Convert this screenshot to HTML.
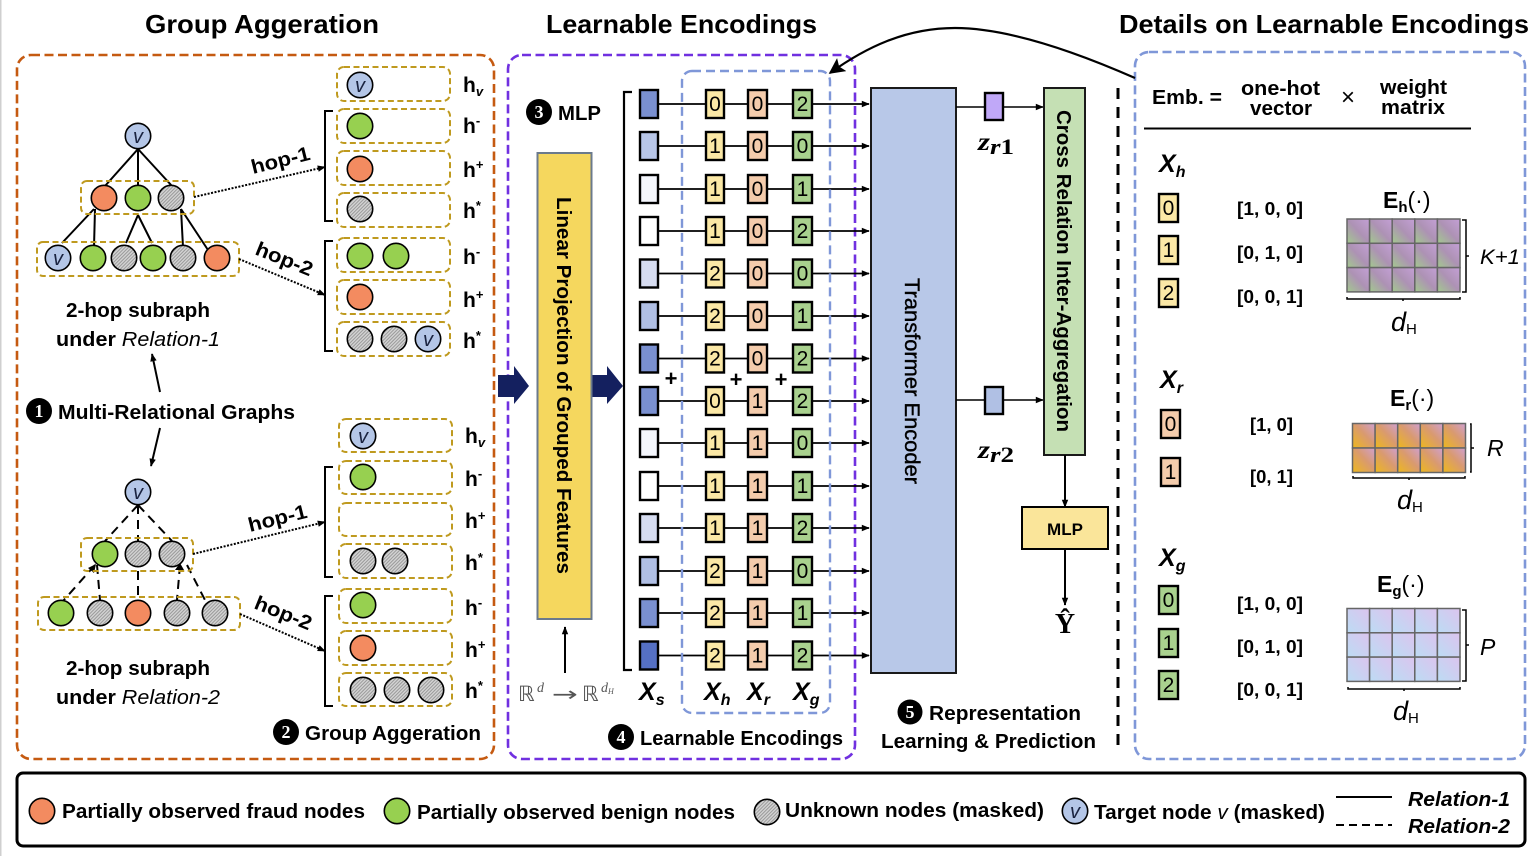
<!DOCTYPE html>
<html lang="en"><head><meta charset="utf-8"><title>Diagram</title>
<style>
html,body{margin:0;padding:0;background:#fff}
svg{display:block}
text{font-family:"Liberation Sans",sans-serif;fill:#000}
.b{font-weight:700}
.t{font-size:26px;font-weight:700}
.m{font-size:20px;font-weight:700}
.h{font-size:21px;font-weight:700}
.h tspan{font-size:13px}
.vt{font-size:20px;font-style:italic;text-anchor:middle;fill:#1a2340}
.gold{fill:none;stroke:#bf9a1f;stroke-width:2;stroke-dasharray:6 3.5}
.row text{font-size:21px;text-anchor:middle}
.k{stroke:#000;stroke-width:2.4}
.num{font-size:21px;text-anchor:middle}
.vec{font-size:18px;font-weight:700}
.cell{stroke:#000;stroke-width:2.4}
.X{font-size:25px;font-weight:700;font-style:italic}
.X tspan{font-size:16px}
.ital{font-style:italic}
.circ{fill:#fff;font-size:18px;font-weight:700;text-anchor:middle;font-family:"Liberation Serif",serif}
.grid{stroke:#666;stroke-width:1.5}
</style></head><body>
<svg width="1540" height="856" viewBox="0 0 1540 856" xmlns="http://www.w3.org/2000/svg">
<defs>
<pattern id="hatch" width="2.4" height="2.4" patternUnits="userSpaceOnUse" patternTransform="rotate(45)"><rect width="2.4" height="2.4" fill="#d4d4d4"/><rect width="1" height="2.4" fill="#999"/></pattern>
<marker id="a" viewBox="0 0 10 10" refX="9" refY="5" markerWidth="9" markerHeight="8" markerUnits="userSpaceOnUse" orient="auto"><path d="M0 1L10 5L0 9z" fill="#000"/></marker>
<marker id="al" viewBox="0 0 10 10" refX="9" refY="5" markerWidth="22" markerHeight="16" markerUnits="userSpaceOnUse" orient="auto"><path d="M0 0L10 5L0 10L2 5z" fill="#000"/></marker>
<circle id="O" r="12.7" fill="#f38b60" stroke="#000" stroke-width="1.6"/>
<circle id="G" r="12.7" fill="#97d050" stroke="#000" stroke-width="1.6"/>
<circle id="U" r="12.7" fill="url(#hatch)" stroke="#000" stroke-width="1.6"/>
<circle id="V" r="12.7" fill="#b4c6e7" stroke="#000" stroke-width="1.6"/>
<g id="row"><line x1="658" y1="0" x2="869" y2="0" stroke="#000" stroke-width="1.8" marker-end="url(#a)"/>
<rect x="706" y="-14" width="18" height="28" fill="#fbe8a6" class="k"/><rect x="748" y="-14" width="19" height="28" fill="#f4ccac" class="k"/><rect x="793" y="-14" width="19" height="28" fill="#a9d18e" class="k"/></g>
<linearGradient id="gh" x1="0" y1="1" x2="1" y2="0"><stop offset="0" stop-color="#a3c98e"/><stop offset=".5" stop-color="#ad92b4"/><stop offset="1" stop-color="#c4a0d6"/></linearGradient>
<linearGradient id="gr" x1="0" y1="1" x2="1" y2="0"><stop offset="0" stop-color="#eeb81c"/><stop offset=".55" stop-color="#d99a70"/><stop offset="1" stop-color="#d0a0d0"/></linearGradient>
<linearGradient id="gg" x1="0" y1="1" x2="1" y2="0"><stop offset="0" stop-color="#bcdcf4"/><stop offset="1" stop-color="#dcc4ee"/></linearGradient>
</defs>
<rect width="1540" height="856" fill="#fff"/>
<line x1="0.5" y1="0" x2="0.5" y2="856" stroke="#cfcfcf" stroke-width="2"/>

<!-- titles -->
<text x="145" y="33" class="t" textLength="234" lengthAdjust="spacingAndGlyphs">Group Aggeration</text>
<text x="546" y="33" class="t" textLength="271" lengthAdjust="spacingAndGlyphs">Learnable Encodings</text>
<text x="1119" y="33" class="t" textLength="410" lengthAdjust="spacingAndGlyphs">Details on Learnable Encodings</text>

<!-- section boxes -->
<rect x="17" y="55" width="477" height="704" rx="14" fill="none" stroke="#c55a11" stroke-width="2.6" stroke-dasharray="9 4.5"/>
<rect x="508" y="55" width="347" height="704" rx="14" fill="none" stroke="#7030e0" stroke-width="2.6" stroke-dasharray="9 4.5"/>
<rect x="1135" y="52" width="390" height="707" rx="14" fill="none" stroke="#7f97d8" stroke-width="2.6" stroke-dasharray="9 4.5"/>

<!-- upper graph -->
<g stroke="#000" stroke-width="2" fill="none">
<path d="M138 149L105 186M138 149V186M138 149L172 186"/>
<path d="M94 209L62 243M95 209L94 247M138 215L126 243M138 215L152 243M181 209L183 247M181 209L208 250"/>
</g>
<rect x="81" y="181" width="113" height="33" rx="6" class="gold"/>
<rect x="37" y="242" width="202" height="34" rx="6" class="gold"/>
<use href="#V" x="138" y="136"/><text x="138" y="143" class="vt">v</text>
<use href="#O" x="104" y="198"/><use href="#G" x="138" y="198"/><use href="#U" x="171" y="198"/>
<use href="#V" x="58" y="258"/><text x="58" y="265" class="vt">v</text>
<use href="#G" x="93" y="258"/><use href="#U" x="124" y="258"/><use href="#G" x="153" y="258"/><use href="#U" x="183" y="258"/><use href="#O" x="217" y="258"/>
<g class="gold"><rect x="337" y="67" width="113" height="34" rx="7"/><rect x="337" y="109" width="113" height="34" rx="7"/><rect x="337" y="151" width="113" height="34" rx="7"/><rect x="337" y="193" width="113" height="34" rx="7"/><rect x="337" y="238" width="113" height="34" rx="7"/><rect x="337" y="280" width="113" height="34" rx="7"/><rect x="337" y="322" width="113" height="34" rx="7"/></g>
<use href="#V" x="360" y="85"/><text x="360" y="92" class="vt">v</text>
<use href="#G" x="360" y="126"/><use href="#O" x="360" y="169"/><use href="#U" x="360" y="209"/>
<use href="#G" x="360" y="256"/><use href="#G" x="396" y="256"/><use href="#O" x="360" y="297"/>
<use href="#U" x="360" y="339"/><use href="#U" x="394" y="339"/><use href="#V" x="428" y="339"/><text x="428" y="346" class="vt">v</text>
<path d="M333 111H325V221H333M333 241H325V351H333" fill="none" stroke="#000" stroke-width="2"/>
<line x1="194" y1="197" x2="325" y2="167" stroke="#000" stroke-width="2" stroke-dasharray="2 1.5" marker-end="url(#a)"/>
<line x1="239" y1="259" x2="325" y2="295" stroke="#000" stroke-width="2" stroke-dasharray="2 1.5" marker-end="url(#a)"/>
<text transform="translate(253,174) rotate(-14)" class="m" textLength="60" lengthAdjust="spacingAndGlyphs">hop-1</text>
<text transform="translate(254,254) rotate(22)" class="m" textLength="60" lengthAdjust="spacingAndGlyphs">hop-2</text>
<text x="463" y="92" class="h">h<tspan dy="4" class="ital">v</tspan></text>
<text x="463" y="133" class="h">h<tspan dy="-8">-</tspan></text>
<text x="463" y="177" class="h">h<tspan dy="-8">+</tspan></text>
<text x="463" y="218" class="h">h<tspan dy="-8">*</tspan></text>
<text x="463" y="264" class="h">h<tspan dy="-8">-</tspan></text>
<text x="463" y="307" class="h">h<tspan dy="-8">+</tspan></text>
<text x="463" y="348" class="h">h<tspan dy="-8">*</tspan></text>
<text x="66" y="317" class="m" textLength="144" lengthAdjust="spacingAndGlyphs">2-hop subraph</text>
<text x="56" y="346" class="m" textLength="164" lengthAdjust="spacingAndGlyphs">under <tspan class="ital" font-weight="400">Relation-1</tspan></text>
<line x1="160" y1="392" x2="152" y2="354" stroke="#000" stroke-width="2" marker-end="url(#a)"/>
<circle cx="39" cy="411" r="13" fill="#000"/><text x="39" y="417" class="circ">1</text>
<text x="58" y="419" class="m" textLength="237" lengthAdjust="spacingAndGlyphs">Multi-Relational Graphs</text>
<line x1="160" y1="428" x2="151" y2="466" stroke="#000" stroke-width="2" marker-end="url(#a)"/>

<!-- lower graph -->
<g stroke="#000" stroke-width="2" fill="none" stroke-dasharray="9 6">
<path d="M138 505L105 541M138 505V541M138 505L172 541"/>
<path d="M95 565L63 601M97 565L100 600M138 571V601M180 565L177 600M187 565L206 602"/>
</g>
<path d="M96 564L88 568L94 573zM180 563L175 570L184 570z" fill="#000"/>
<rect x="81" y="538" width="112" height="33" rx="6" class="gold"/>
<rect x="38" y="597" width="202" height="33" rx="6" class="gold"/>
<use href="#V" x="138" y="492"/><text x="138" y="499" class="vt">v</text>
<use href="#G" x="105" y="554"/><use href="#U" x="138" y="554"/><use href="#U" x="172" y="554"/>
<use href="#G" x="61" y="613"/><use href="#U" x="100" y="613"/><use href="#O" x="138" y="613"/><use href="#U" x="177" y="613"/><use href="#U" x="215" y="613"/>
<g class="gold"><rect x="339" y="419" width="113" height="33" rx="7"/><rect x="339" y="461" width="113" height="33" rx="7"/><rect x="339" y="503" width="113" height="33" rx="7"/><rect x="339" y="544" width="113" height="34" rx="7"/><rect x="339" y="589" width="113" height="34" rx="7"/><rect x="339" y="631" width="113" height="34" rx="7"/><rect x="339" y="673" width="113" height="33" rx="7"/></g>
<use href="#V" x="363" y="436"/><text x="363" y="443" class="vt">v</text>
<use href="#G" x="363" y="477"/><use href="#U" x="363" y="561"/><use href="#U" x="395" y="561"/>
<use href="#G" x="363" y="605"/><use href="#O" x="363" y="648"/><use href="#U" x="363" y="690"/><use href="#U" x="397" y="690"/><use href="#U" x="431" y="690"/>
<path d="M333 467H325V577H333M333 596H325V706H333" fill="none" stroke="#000" stroke-width="2"/>
<line x1="193" y1="554" x2="325" y2="522" stroke="#000" stroke-width="2" stroke-dasharray="2 1.5" marker-end="url(#a)"/>
<line x1="240" y1="614" x2="325" y2="651" stroke="#000" stroke-width="2" stroke-dasharray="2 1.5" marker-end="url(#a)"/>
<text transform="translate(250,532) rotate(-14)" class="m" textLength="60" lengthAdjust="spacingAndGlyphs">hop-1</text>
<text transform="translate(253,608) rotate(22)" class="m" textLength="60" lengthAdjust="spacingAndGlyphs">hop-2</text>
<text x="465" y="443" class="h">h<tspan dy="4" class="ital">v</tspan></text>
<text x="465" y="486" class="h">h<tspan dy="-8">-</tspan></text>
<text x="465" y="528" class="h">h<tspan dy="-8">+</tspan></text>
<text x="465" y="570" class="h">h<tspan dy="-8">*</tspan></text>
<text x="465" y="615" class="h">h<tspan dy="-8">-</tspan></text>
<text x="465" y="657" class="h">h<tspan dy="-8">+</tspan></text>
<text x="465" y="698" class="h">h<tspan dy="-8">*</tspan></text>
<text x="66" y="675" class="m" textLength="144" lengthAdjust="spacingAndGlyphs">2-hop subraph</text>
<text x="56" y="704" class="m" textLength="164" lengthAdjust="spacingAndGlyphs">under <tspan class="ital" font-weight="400">Relation-2</tspan></text>
<circle cx="286" cy="732" r="13" fill="#000"/><text x="286" y="738" class="circ">2</text>
<text x="305" y="740" class="m" textLength="176" lengthAdjust="spacingAndGlyphs">Group Aggeration</text>

<!-- navy arrows -->
<path d="M498 375H514V366L529 386L514 404V397H498z" fill="#14205f"/>
<path d="M592 375H607V366L623 386L607 404V397H592z" fill="#14205f"/>

<!-- MLP / projection -->
<circle cx="539" cy="112" r="13" fill="#000"/><text x="539" y="118" class="circ">3</text>
<text x="558" y="120" class="m" textLength="43" lengthAdjust="spacingAndGlyphs">MLP</text>
<rect x="537.5" y="153" width="54" height="466" fill="#f5d75e" stroke="#6b7a8c" stroke-width="2"/>
<text transform="translate(557,197) rotate(90)" class="m" textLength="377" lengthAdjust="spacingAndGlyphs">Linear Projection of Grouped Features</text>
<line x1="565" y1="673" x2="565" y2="627" stroke="#000" stroke-width="2" marker-end="url(#a)"/>
<text x="518" y="701" style="font-family:'DejaVu Sans',sans-serif;fill:#555" font-size="21">ℝ</text>
<text x="537" y="692" style="font-family:'Liberation Serif',serif;font-style:italic;fill:#555" font-size="14">d</text>
<text x="552" y="701" style="font-family:'DejaVu Sans',sans-serif;fill:#555" font-size="20" textLength="26" lengthAdjust="spacingAndGlyphs">→</text>
<text x="582" y="701" style="font-family:'DejaVu Sans',sans-serif;fill:#555" font-size="21">ℝ</text>
<text x="601" y="692" style="font-family:'Liberation Serif',serif;font-style:italic;fill:#555" font-size="14">d<tspan font-size="8" dy="2">H</tspan></text>

<!-- encoding rows -->
<path d="M632 92H624V670H632" fill="none" stroke="#000" stroke-width="2.2"/>
<g class="row">
<g transform="translate(0,104)"><use href="#row"/><rect x="640" y="-14" width="18" height="28" fill="#7a90d0" class="k"/><text x="715" y="7">0</text><text x="757.5" y="7">0</text><text x="802.5" y="7">2</text></g>
<g transform="translate(0,146)"><use href="#row"/><rect x="640" y="-14" width="18" height="28" fill="#b8c6e8" class="k"/><text x="715" y="7">1</text><text x="757.5" y="7">0</text><text x="802.5" y="7">0</text></g>
<g transform="translate(0,189)"><use href="#row"/><rect x="640" y="-14" width="18" height="28" fill="#f4f6fc" class="k"/><text x="715" y="7">1</text><text x="757.5" y="7">0</text><text x="802.5" y="7">1</text></g>
<g transform="translate(0,231)"><use href="#row"/><rect x="640" y="-14" width="18" height="28" fill="#ffffff" class="k"/><text x="715" y="7">1</text><text x="757.5" y="7">0</text><text x="802.5" y="7">2</text></g>
<g transform="translate(0,273.5)"><use href="#row"/><rect x="640" y="-14" width="18" height="28" fill="#d6dcf0" class="k"/><text x="715" y="7">2</text><text x="757.5" y="7">0</text><text x="802.5" y="7">0</text></g>
<g transform="translate(0,316)"><use href="#row"/><rect x="640" y="-14" width="18" height="28" fill="#b0bfe4" class="k"/><text x="715" y="7">2</text><text x="757.5" y="7">0</text><text x="802.5" y="7">1</text></g>
<g transform="translate(0,358.5)"><use href="#row"/><rect x="640" y="-14" width="18" height="28" fill="#7a90d0" class="k"/><text x="715" y="7">2</text><text x="757.5" y="7">0</text><text x="802.5" y="7">2</text></g>
<g transform="translate(0,401)"><use href="#row"/><rect x="640" y="-14" width="18" height="28" fill="#7a90d0" class="k"/><text x="715" y="7">0</text><text x="757.5" y="7">1</text><text x="802.5" y="7">2</text></g>
<g transform="translate(0,443)"><use href="#row"/><rect x="640" y="-14" width="18" height="28" fill="#f4f6fc" class="k"/><text x="715" y="7">1</text><text x="757.5" y="7">1</text><text x="802.5" y="7">0</text></g>
<g transform="translate(0,486)"><use href="#row"/><rect x="640" y="-14" width="18" height="28" fill="#ffffff" class="k"/><text x="715" y="7">1</text><text x="757.5" y="7">1</text><text x="802.5" y="7">1</text></g>
<g transform="translate(0,528)"><use href="#row"/><rect x="640" y="-14" width="18" height="28" fill="#d6dcf0" class="k"/><text x="715" y="7">1</text><text x="757.5" y="7">1</text><text x="802.5" y="7">2</text></g>
<g transform="translate(0,571)"><use href="#row"/><rect x="640" y="-14" width="18" height="28" fill="#b0bfe4" class="k"/><text x="715" y="7">2</text><text x="757.5" y="7">1</text><text x="802.5" y="7">0</text></g>
<g transform="translate(0,613)"><use href="#row"/><rect x="640" y="-14" width="18" height="28" fill="#7a90d0" class="k"/><text x="715" y="7">2</text><text x="757.5" y="7">1</text><text x="802.5" y="7">1</text></g>
<g transform="translate(0,655.5)"><use href="#row"/><rect x="640" y="-14" width="18" height="28" fill="#5570c4" class="k"/><text x="715" y="7">2</text><text x="757.5" y="7">1</text><text x="802.5" y="7">2</text></g>
</g>
<text x="671" y="386" class="b" font-size="22" text-anchor="middle">+</text>
<text x="736" y="387" class="b" font-size="22" text-anchor="middle">+</text>
<text x="781" y="387" class="b" font-size="22" text-anchor="middle">+</text>
<rect x="682" y="71" width="148" height="642" rx="10" fill="none" stroke="#7f97d8" stroke-width="2.4" stroke-dasharray="9 5"/>
<text x="639" y="700" class="X">X<tspan dy="5">s</tspan></text>
<text x="704" y="700" class="X">X<tspan dy="5">h</tspan></text>
<text x="747" y="700" class="X">X<tspan dy="5">r</tspan></text>
<text x="793" y="700" class="X">X<tspan dy="5">g</tspan></text>
<circle cx="621" cy="737" r="13" fill="#000"/><text x="621" y="743" class="circ">4</text>
<text x="640" y="745" class="m" textLength="203" lengthAdjust="spacingAndGlyphs">Learnable Encodings</text>

<!-- curved pointer -->
<path d="M1135 78C1060 45 1000 28 955 28C905 28 865 48 830 73" fill="none" stroke="#000" stroke-width="2.2" marker-end="url(#al)"/>

<!-- transformer -->
<rect x="871" y="88" width="85" height="585" fill="#b8c8e8" stroke="#1a1a1a" stroke-width="2"/>
<text transform="translate(905,278) rotate(90)" font-size="21" textLength="206" lengthAdjust="spacingAndGlyphs" stroke="#000" stroke-width=".4">Transformer Encoder</text>
<line x1="956" y1="107" x2="1043" y2="107" stroke="#000" stroke-width="1.6" marker-end="url(#a)"/>
<line x1="956" y1="400" x2="1043" y2="400" stroke="#000" stroke-width="1.6" marker-end="url(#a)"/>
<rect x="985" y="93" width="18" height="27" fill="#c0a8f8" class="k"/>
<rect x="985" y="387" width="18" height="27" fill="#b0c0e4" class="k"/>
<text x="978" y="150" textLength="36" lengthAdjust="spacingAndGlyphs" style="font-family:'Liberation Serif',serif;font-weight:700;font-size:25px"><tspan font-style="italic">z</tspan><tspan font-style="italic" font-size="22" dy="4">r</tspan><tspan font-size="22">1</tspan></text>
<text x="978" y="458" textLength="36" lengthAdjust="spacingAndGlyphs" style="font-family:'Liberation Serif',serif;font-weight:700;font-size:25px"><tspan font-style="italic">z</tspan><tspan font-style="italic" font-size="22" dy="4">r</tspan><tspan font-size="22">2</tspan></text>
<rect x="1044" y="88" width="41" height="367" fill="#c5e0b4" stroke="#1a1a1a" stroke-width="2"/>
<text transform="translate(1057,110) rotate(90)" class="m" textLength="322" lengthAdjust="spacingAndGlyphs">Cross Relation Inter-Aggregation</text>
<line x1="1065" y1="455" x2="1065" y2="507" stroke="#000" stroke-width="2" marker-end="url(#a)"/>
<rect x="1022" y="507" width="86" height="42" fill="#fae59a" stroke="#000" stroke-width="2"/>
<text x="1065" y="535" class="b" font-size="17" text-anchor="middle">MLP</text>
<line x1="1065" y1="549" x2="1065" y2="605" stroke="#000" stroke-width="2" marker-end="url(#a)"/>
<text x="1065" y="633" text-anchor="middle" style="font-family:'Liberation Serif',serif;font-weight:700;font-size:28px">Ŷ</text>
<circle cx="910" cy="712" r="12.5" fill="#000"/><text x="910" y="718" class="circ">5</text>
<text x="929" y="720" class="m" textLength="152" lengthAdjust="spacingAndGlyphs">Representation</text>
<text x="881" y="748" class="m" textLength="215" lengthAdjust="spacingAndGlyphs">Learning &amp; Prediction</text>
<line x1="1118" y1="88" x2="1118" y2="752" stroke="#000" stroke-width="3" stroke-dasharray="11 8"/>

<!-- details header -->
<text x="1152" y="104" class="m" textLength="70" lengthAdjust="spacingAndGlyphs">Emb. =</text>
<text x="1241" y="95" class="m" textLength="79" lengthAdjust="spacingAndGlyphs">one-hot</text>
<text x="1250" y="115" class="m" textLength="62" lengthAdjust="spacingAndGlyphs">vector</text>
<text x="1348" y="105" font-size="24" text-anchor="middle">×</text>
<text x="1380" y="94" class="m" textLength="67" lengthAdjust="spacingAndGlyphs">weight</text>
<text x="1381" y="114" class="m" textLength="64" lengthAdjust="spacingAndGlyphs">matrix</text>
<line x1="1144" y1="128.500" x2="1471" y2="128.500" stroke="#000" stroke-width="2"/>

<!-- X_h -->
<text x="1159" y="172" class="X">X<tspan dy="5">h</tspan></text>
<rect x="1159" y="194" width="19" height="28" fill="#fbe8a6" class="cell"/><text x="1168.500" y="215" class="num">0</text>
<rect x="1159" y="236" width="19" height="28" fill="#fbe8a6" class="cell"/><text x="1168.500" y="257" class="num">1</text>
<rect x="1159" y="279" width="19" height="28" fill="#fbe8a6" class="cell"/><text x="1168.500" y="300" class="num">2</text>
<text x="1237" y="215" class="vec" textLength="66" lengthAdjust="spacingAndGlyphs">[1, 0, 0]</text>
<text x="1237" y="259" class="vec" textLength="66" lengthAdjust="spacingAndGlyphs">[0, 1, 0]</text>
<text x="1237" y="303" class="vec" textLength="66" lengthAdjust="spacingAndGlyphs">[0, 0, 1]</text>
<text x="1383" y="208" font-size="23"><tspan font-weight="700">E</tspan><tspan font-size="15" dy="4" font-weight="700">h</tspan><tspan dy="-4">(·)</tspan></text>
<g fill="url(#gh)" class="grid">
<rect x="1347" y="219" width="22.600" height="24.300"/><rect x="1369.600" y="219" width="22.600" height="24.300"/><rect x="1392.200" y="219" width="22.600" height="24.300"/><rect x="1414.800" y="219" width="22.600" height="24.300"/><rect x="1437.400" y="219" width="22.600" height="24.300"/>
<rect x="1347" y="243.300" width="22.600" height="24.300"/><rect x="1369.600" y="243.300" width="22.600" height="24.300"/><rect x="1392.200" y="243.300" width="22.600" height="24.300"/><rect x="1414.800" y="243.300" width="22.600" height="24.300"/><rect x="1437.400" y="243.300" width="22.600" height="24.300"/>
<rect x="1347" y="267.600" width="22.600" height="24.300"/><rect x="1369.600" y="267.600" width="22.600" height="24.300"/><rect x="1392.200" y="267.600" width="22.600" height="24.300"/><rect x="1414.800" y="267.600" width="22.600" height="24.300"/><rect x="1437.400" y="267.600" width="22.600" height="24.300"/>
</g>
<path d="M1462 220H1466V292H1462M1466 256H1469M1347 297V299H1460V297M1403 299V301" fill="none" stroke="#000" stroke-width="1.5"/>
<text x="1480" y="264" class="ital" font-size="21" textLength="40" lengthAdjust="spacingAndGlyphs">K+1</text>
<text x="1391" y="331" font-size="27"><tspan class="ital">d</tspan><tspan font-size="15" dy="3">H</tspan></text>

<!-- X_r -->
<text x="1160" y="388" class="X">X<tspan dy="5">r</tspan></text>
<rect x="1161" y="410" width="19" height="28" fill="#f4ccac" class="cell"/><text x="1170.500" y="431" class="num">0</text>
<rect x="1161" y="458" width="19" height="28" fill="#f4ccac" class="cell"/><text x="1170.500" y="479" class="num">1</text>
<text x="1250" y="431" class="vec" textLength="43" lengthAdjust="spacingAndGlyphs">[1, 0]</text>
<text x="1250" y="483" class="vec" textLength="43" lengthAdjust="spacingAndGlyphs">[0, 1]</text>
<text x="1390" y="406" font-size="23"><tspan font-weight="700">E</tspan><tspan font-size="15" dy="4" font-weight="700">r</tspan><tspan dy="-4">(·)</tspan></text>
<g fill="url(#gr)" class="grid">
<rect x="1352.500" y="423.500" width="22.600" height="24.500"/><rect x="1375.100" y="423.500" width="22.600" height="24.500"/><rect x="1397.700" y="423.500" width="22.600" height="24.500"/><rect x="1420.300" y="423.500" width="22.600" height="24.500"/><rect x="1442.900" y="423.500" width="22.600" height="24.500"/>
<rect x="1352.500" y="448" width="22.600" height="24.500"/><rect x="1375.100" y="448" width="22.600" height="24.500"/><rect x="1397.700" y="448" width="22.600" height="24.500"/><rect x="1420.300" y="448" width="22.600" height="24.500"/><rect x="1442.900" y="448" width="22.600" height="24.500"/>
</g>
<path d="M1470 424H1471V472H1470M1471 448H1474M1353 476V478H1465V476M1409 478V480" fill="none" stroke="#000" stroke-width="1.5"/>
<text x="1487" y="456" class="ital" font-size="23">R</text>
<text x="1397" y="509" font-size="27"><tspan class="ital">d</tspan><tspan font-size="15" dy="3">H</tspan></text>

<!-- X_g -->
<text x="1159" y="566" class="X">X<tspan dy="5">g</tspan></text>
<rect x="1159" y="586" width="19" height="28" fill="#a9d18e" class="cell"/><text x="1168.500" y="607" class="num">0</text>
<rect x="1159" y="629" width="19" height="28" fill="#a9d18e" class="cell"/><text x="1168.500" y="650" class="num">1</text>
<rect x="1159" y="671" width="19" height="28" fill="#a9d18e" class="cell"/><text x="1168.500" y="692" class="num">2</text>
<text x="1237" y="610" class="vec" textLength="66" lengthAdjust="spacingAndGlyphs">[1, 0, 0]</text>
<text x="1237" y="653" class="vec" textLength="66" lengthAdjust="spacingAndGlyphs">[0, 1, 0]</text>
<text x="1237" y="696" class="vec" textLength="66" lengthAdjust="spacingAndGlyphs">[0, 0, 1]</text>
<text x="1377" y="592" font-size="23"><tspan font-weight="700">E</tspan><tspan font-size="15" dy="4" font-weight="700">g</tspan><tspan dy="-4">(·)</tspan></text>
<g fill="url(#gg)" class="grid">
<rect x="1347" y="608.500" width="22.600" height="24.300"/><rect x="1369.600" y="608.500" width="22.600" height="24.300"/><rect x="1392.200" y="608.500" width="22.600" height="24.300"/><rect x="1414.800" y="608.500" width="22.600" height="24.300"/><rect x="1437.400" y="608.500" width="22.600" height="24.300"/>
<rect x="1347" y="632.800" width="22.600" height="24.300"/><rect x="1369.600" y="632.800" width="22.600" height="24.300"/><rect x="1392.200" y="632.800" width="22.600" height="24.300"/><rect x="1414.800" y="632.800" width="22.600" height="24.300"/><rect x="1437.400" y="632.800" width="22.600" height="24.300"/>
<rect x="1347" y="657.100" width="22.600" height="24.300"/><rect x="1369.600" y="657.100" width="22.600" height="24.300"/><rect x="1392.200" y="657.100" width="22.600" height="24.300"/><rect x="1414.800" y="657.100" width="22.600" height="24.300"/><rect x="1437.400" y="657.100" width="22.600" height="24.300"/>
</g>
<path d="M1462 610H1466V681H1462M1466 645H1469M1348 687V689H1460V687M1404 689V691" fill="none" stroke="#000" stroke-width="1.5"/>
<text x="1480" y="655" class="ital" font-size="23">P</text>
<text x="1393" y="720" font-size="27"><tspan class="ital">d</tspan><tspan font-size="15" dy="3">H</tspan></text>

<!-- legend -->
<rect x="17" y="773" width="1508" height="73" rx="6" fill="none" stroke="#000" stroke-width="3"/>
<use href="#O" x="42" y="811"/>
<text x="62" y="818" class="m" textLength="303" lengthAdjust="spacingAndGlyphs">Partially observed fraud nodes</text>
<use href="#G" x="397" y="811"/>
<text x="417" y="819" class="m" textLength="318" lengthAdjust="spacingAndGlyphs">Partially observed benign nodes</text>
<use href="#U" x="767" y="812"/>
<text x="785" y="817" class="m" textLength="259" lengthAdjust="spacingAndGlyphs">Unknown nodes (masked)</text>
<use href="#V" x="1075" y="811"/><text x="1075" y="818" class="vt">v</text>
<text x="1094" y="819" class="m" textLength="231" lengthAdjust="spacingAndGlyphs">Target node <tspan class="ital" font-weight="400">v</tspan> (masked)</text>
<line x1="1336" y1="797" x2="1392" y2="797" stroke="#000" stroke-width="2"/>
<line x1="1336" y1="825" x2="1392" y2="825" stroke="#000" stroke-width="2" stroke-dasharray="8 5"/>
<text x="1408" y="806" class="m ital" textLength="102" lengthAdjust="spacingAndGlyphs">Relation-1</text>
<text x="1408" y="833" class="m ital" textLength="102" lengthAdjust="spacingAndGlyphs">Relation-2</text>
</svg>
</body></html>
